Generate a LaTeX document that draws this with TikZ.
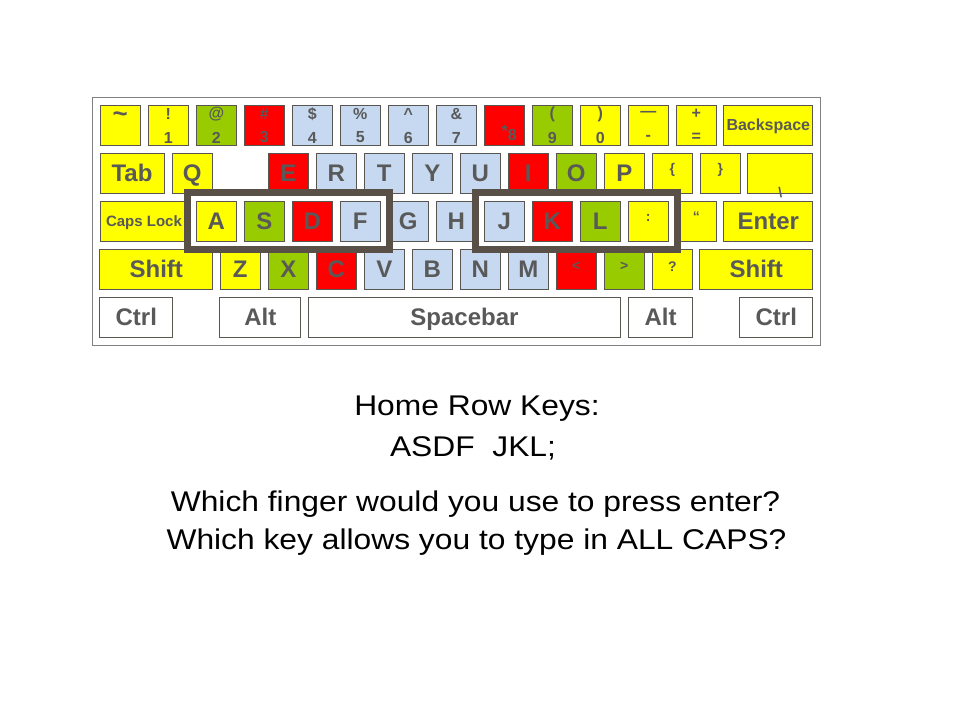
\documentclass[tikz,border=0pt]{standalone}
\usepackage{fontspec}
\setmainfont{Liberation Sans}
\newfontfamily\slidefont[FakeStretch=1.115]{Liberation Sans}
\usepackage{tikz}
\usetikzlibrary{fit}

\definecolor{keyyellow}{RGB}{255,255,0}
\definecolor{keygreen}{RGB}{153,204,0}
\definecolor{keyred}{RGB}{255,0,0}
\definecolor{keyblue}{RGB}{198,217,241}
\definecolor{keyline}{RGB}{89,85,80}
\definecolor{keytext}{RGB}{89,89,89}
\definecolor{homeframe}{RGB}{89,80,72}
\definecolor{boardline}{RGB}{128,128,128}

\tikzset{
  key/.style={draw=keyline, line width=1pt, minimum width=40.5pt, minimum height=40pt,
    inner sep=0pt, text=keytext, font=\fontsize{24}{28}\selectfont\bfseries,
    text height=17pt, text depth=0pt},
  widekey/.style={key, minimum width=#1},
  smallkey/.style={font=\fontsize{#1}{18}\selectfont\bfseries, text height=11.3pt},
  sym/.style={text=keytext, inner sep=0pt, anchor=base, font=\fontsize{16}{18}\selectfont\bfseries},
  minisym/.style={sym, font=\fontsize{14}{16}\selectfont\bfseries},
  duo/.style 2 args={label={[sym,yshift=11pt]center:{#1}}, label={[sym,yshift=-12.5pt]center:{#2}}},
  homebox/.style={draw=homeframe, line width=7pt, inner sep=8pt},
  question/.style={text=black, inner sep=0pt, anchor=base, font=\slidefont\fontsize{28.5}{34}\selectfont}
}

\begin{document}
\begin{tikzpicture}[x=1pt,y=-1pt]
  \useasboundingbox (0,0) rectangle (960,720);
  \draw[draw=boardline, line width=1pt] (92.7,97.5) rectangle (820,345.7);

  % number row
  \node[key,fill=keyyellow,label={[sym,font=\fontsize{26}{28}\selectfont\bfseries,yshift=8pt]center:\textasciitilde}] (tilde) at (120.3,125) {};
  \node[key,fill=keyyellow,duo={!}{1}] (n1) at (168.3,125) {};
  \node[key,fill=keygreen,duo={@}{2}] (n2) at (216.3,125) {};
  \node[key,fill=keyred,duo={\#}{3}] (n3) at (264.3,125) {};
  \node[key,fill=keyblue,duo={\$}{4}] (n4) at (312.3,125) {};
  \node[key,fill=keyblue,duo={\%}{5}] (n5) at (360.3,125) {};
  \node[key,fill=keyblue,duo={\textasciicircum}{6}] (n6) at (408.3,125) {};
  \node[key,fill=keyblue,duo={\&}{7}] (n7) at (456.3,125) {};
  \node[key,fill=keyred,label={[sym,xshift=5pt,yshift=-8pt]center:{\raisebox{4pt}{*}8}}] (n8) at (504.3,125) {};
  \node[key,fill=keygreen,duo={(}{9}] (n9) at (552.3,125) {};
  \node[key,fill=keyyellow,duo={)}{0}] (n0) at (600.3,125) {};
  \node[key,fill=keyyellow,duo={\textemdash}{-}] (minus) at (648.3,125) {};
  \node[key,fill=keyyellow,duo={+}{=}] (equal) at (696.3,125) {};
  \node[widekey=88.7pt,fill=keyyellow,smallkey=16] (bksp) at (768.3,125) {Backspace};

  % top letter row
  \node[widekey=64pt,fill=keyyellow] (tab) at (132,173) {Tab};
  \node[key,fill=keyyellow] (q) at (192.3,173) {Q};
  \node[key,fill=keyred] (e) at (288.3,173) {E};
  \node[key,fill=keyblue] (r) at (336.3,173) {R};
  \node[key,fill=keyblue] (t) at (384.3,173) {T};
  \node[key,fill=keyblue] (y) at (432.3,173) {Y};
  \node[key,fill=keyblue] (u) at (480.3,173) {U};
  \node[key,fill=keyred] (i) at (528.3,173) {I};
  \node[key,fill=keygreen] (o) at (576.3,173) {O};
  \node[key,fill=keyyellow] (p) at (624.3,173) {P};
  \node[key,fill=keyyellow,label={[minisym,yshift=3pt]center:\{}] (lbrace) at (672.3,173) {};
  \node[key,fill=keyyellow,label={[minisym,yshift=3pt]center:\}}] (rbrace) at (720.3,173) {};
  \node[widekey=64.7pt,fill=keyyellow,label={[minisym,yshift=-19.5pt]center:\textbackslash}] (bslash) at (780.3,173) {};

  % home row
  \node[widekey=88pt,fill=keyyellow,smallkey=15] (caps) at (144,221.3) {Caps Lock};
  \node[key,fill=keyyellow] (a) at (216.3,221.3) {A};
  \node[key,fill=keygreen] (s) at (264.3,221.3) {S};
  \node[key,fill=keyred] (d) at (312.3,221.3) {D};
  \node[key,fill=keyblue] (f) at (360.3,221.3) {F};
  \node[key,fill=keyblue] (g) at (408.3,221.3) {G};
  \node[key,fill=keyblue] (h) at (456.3,221.3) {H};
  \node[key,fill=keyblue] (j) at (504.3,221.3) {J};
  \node[key,fill=keyred] (k) at (552.3,221.3) {K};
  \node[key,fill=keygreen] (l) at (600.3,221.3) {L};
  \node[key,fill=keyyellow,label={[minisym,yshift=3.3pt]center:{:}}] (colon) at (648.3,221.3) {};
  \node[key,fill=keyyellow,label={[minisym,yshift=4.4pt]center:\textquotedblleft}] (quote) at (696.3,221.3) {};
  \node[widekey=88.7pt,fill=keyyellow] (enter) at (768.3,221.3) {Enter};

  % bottom letter row
  \node[widekey=112.7pt,fill=keyyellow] (lshift) at (156.3,269.3) {Shift};
  \node[key,fill=keyyellow] (z) at (240.3,269.3) {Z};
  \node[key,fill=keygreen] (x) at (288.3,269.3) {X};
  \node[key,fill=keyred] (c) at (336.3,269.3) {C};
  \node[key,fill=keyblue] (v) at (384.3,269.3) {V};
  \node[key,fill=keyblue] (b) at (432.3,269.3) {B};
  \node[key,fill=keyblue] (n) at (480.3,269.3) {N};
  \node[key,fill=keyblue] (m) at (528.3,269.3) {M};
  \node[key,fill=keyred,label={[minisym,yshift=2.9pt]center:{<}}] (comma) at (576.3,269.3) {};
  \node[key,fill=keygreen,label={[minisym,yshift=2.9pt]center:{>}}] (period) at (624.3,269.3) {};
  \node[key,fill=keyyellow,label={[minisym,yshift=2.6pt]center:{?}}] (slash) at (672.3,269.3) {};
  \node[widekey=112.7pt,fill=keyyellow] (rshift) at (756.3,269.3) {Shift};

  % space row
  \node[widekey=72.7pt,fill=white] (lctrl) at (136.3,317.3) {Ctrl};
  \node[widekey=80.7pt,fill=white] (lalt) at (260.3,317.3) {Alt};
  \node[widekey=312.4pt,fill=white] (space) at (464.5,317.3) {Spacebar};
  \node[widekey=64.4pt,fill=white] (ralt) at (660.5,317.3) {Alt};
  \node[widekey=72.7pt,fill=white] (rctrl) at (776.3,317.3) {Ctrl};

  % home row frames
  \node[homebox,fit=(a)(f)] (lefthome) {};
  \node[homebox,fit=(j)(colon)] (righthome) {};

  \node[question] (title) at (477,415) {Home Row Keys:};
  \node[question] (homekeys) at (473,456) {ASDF\ \ JKL;};
  \node[question] (ask1) at (475.5,511.7) {Which finger would you use to press enter?};
  \node[question] (ask2) at (476.5,549.3) {Which key allows you to type in ALL CAPS?};
\end{tikzpicture}
\end{document}
